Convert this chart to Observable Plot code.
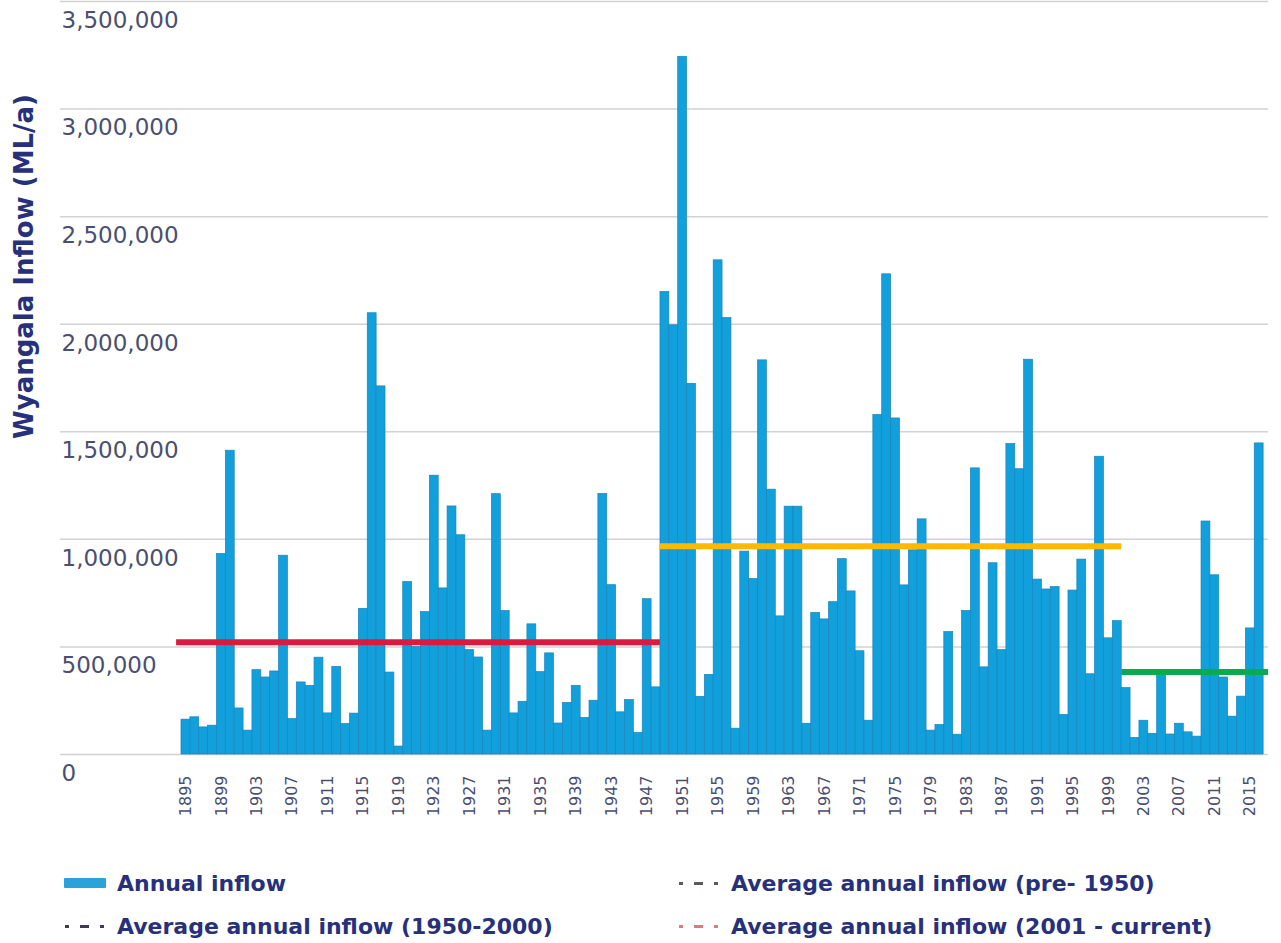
<!DOCTYPE html>
<html>
<head>
<meta charset="utf-8">
<script src="https://cdn.jsdelivr.net/npm/d3@7"></script>
<script src="https://cdn.jsdelivr.net/npm/@observablehq/plot@0.6"></script>
<style>
  html, body { margin: 0; padding: 0; background: #fff; }
  #wrap { position: relative; width: 1281px; height: 943px; overflow: hidden; }
  #legend { position: relative; width: 1281px; height: 113px; }
  .item { position: absolute; display: flex; align-items: center; height: 26px;
          font-family: "DejaVu Sans", sans-serif;
          font-weight: bold; font-size: 22px; color: #27307a; white-space: nowrap; }
  .item svg { margin-right: 11px; }
</style>
</head>
<body>
<div id="wrap">
  <div id="chart"></div>
  <div id="legend"></div>
</div>
<script>
// ---- data ----
const years = d3.range(1895, 2017);
const inflow = [
  162000, 173000, 126000, 134000, 932000, 1412000, 214000, 111000, 392000, 358000,   // 1895-1904
  386000, 924000, 165000, 335000, 319000, 450000, 191000, 407000, 142000, 190000,    // 1905-1914
  677000, 2051000, 1711000, 381000, 37000, 802000, 500000, 662000, 1296000, 772000,  // 1915-1924
  1153000, 1019000, 485000, 451000, 111000, 1210000, 667000, 191000, 245000, 605000, // 1925-1934
  383000, 470000, 144000, 239000, 319000, 170000, 250000, 1211000, 787000, 196000,   // 1935-1944
  253000, 100000, 722000, 312000, 2150000, 1995000, 3243000, 1723000, 268000, 370000,// 1945-1954
  2297000, 2029000, 120000, 943000, 816000, 1832000, 1231000, 642000, 1152000, 1152000, // 1955-1964
  143000, 658000, 628000, 708000, 908000, 758000, 480000, 157000, 1578000, 2232000,  // 1965-1974
  1562000, 786000, 949000, 1093000, 111000, 137000, 569000, 92000, 667000, 1330000,  // 1975-1984
  405000, 889000, 485000, 1443000, 1326000, 1835000, 813000, 767000, 778000, 184000, // 1985-1994
  762000, 906000, 373000, 1384000, 540000, 620000, 309000, 77000, 157000, 96000,     // 1995-2004
  369000, 93000, 143000, 103000, 83000, 1083000, 833000, 358000, 176000, 269000,     // 2005-2014
  586000, 1446000                                                                   // 2015-2016
];
const yTicks = [0, 500000, 1000000, 1500000, 2000000, 2500000, 3000000, 3500000];
const tickYears = d3.range(1895, 2016, 4);

const avgNames  = ["pre-1950", "1950-2000", "2001-current"];
const avgStart  = [1895, 1949, 2001];
const avgEnd    = [1948, 2000, 2016];
const avgValues = [522000, 968000, 383000];
const avgColors = ["#dc1a40", "#ffba00", "#0aaa4e"];

const yTitle = "Wyangala Inflow (ML/a)";
const legendItems = [
  {label: "Annual inflow", kind: "swatch", color: "#2aa3da", left: 64, top: 53},
  {label: "Average annual inflow (pre- 1950)", kind: "dash", color: "#5a5a62", left: 678, top: 53},
  {label: "Average annual inflow (1950-2000)", kind: "dash", color: "#3a3d55", left: 64, top: 96},
  {label: "Average annual inflow (2001 - current)", kind: "dash", color: "#e07a7a", left: 678, top: 96}
];

// ---- build ----
const data = years.map((year, i) => ({year, value: inflow[i]}));
const avgData = avgNames.map((name, i) => ({name, start: avgStart[i], end: avgEnd[i], value: avgValues[i], color: avgColors[i]}));

const tickColor = "#4a4f72";
const chart = Plot.plot({
  width: 1281,
  height: 830,
  marginLeft: 60,
  marginRight: 13,
  marginTop: 1,
  marginBottom: 76,
  x: {domain: [1880.86, 2017.05]},
  y: {domain: [0, 3500000]},
  color: {type: "identity"},
  style: {fontFamily: "DejaVu Sans, sans-serif", background: "white", overflow: "visible"},
  marks: [
    Plot.gridY(yTicks, {stroke: "#d2d2d2", strokeOpacity: 1, strokeWidth: 1.5}),
    Plot.rectY(data, {x1: d => d.year - 0.5, x2: d => d.year + 0.5, y: "value",
      fill: "#12a0dc", stroke: "#1984ba", strokeWidth: 0.7}),
    Plot.ruleY(avgData, {y: "value",
      x1: d => d.start - 0.5 - (d.start === years[0] ? 0.55 : 0),
      x2: d => d.end + 0.5 + (d.end === years[years.length - 1] ? 0.55 : 0),
      stroke: "color", strokeWidth: 6}),
    Plot.axisY(yTicks, {anchor: "left", tickSize: 0, textAnchor: "start", dx: 10, dy: 19,
      tickFormat: d3.format(","), fontSize: 23, fill: tickColor, label: null}),
    Plot.axisX(tickYears, {anchor: "bottom", tickSize: 0, tickPadding: 21, tickRotate: -90,
      tickFormat: d => String(d), fontSize: 16, fill: tickColor, label: null}),
    Plot.text([yTitle], {frameAnchor: "top-left", text: d => d, rotate: -90, dx: -36, dy: 265,
      textAnchor: "middle", lineAnchor: "middle",
      fontSize: 26, fontWeight: "bold", fill: "#27307a", letterSpacing: 0.4})
  ]
});
document.getElementById("chart").appendChild(chart);

const legend = document.getElementById("legend");
for (const it of legendItems) {
  const div = document.createElement("div");
  div.className = "item";
  div.style.left = it.left + "px";
  div.style.top = (it.top - 13) + "px";
  let icon;
  if (it.kind === "swatch") {
    icon = `<svg width="42" height="10"><rect x="0" y="0" width="42" height="10" rx="1" fill="${it.color}"/></svg>`;
  } else {
    icon = `<svg width="42" height="10"><rect x="1" y="4" width="4" height="3" fill="${it.color}"/><rect x="16" y="4" width="9" height="3" fill="${it.color}"/><rect x="36" y="4" width="4" height="3" fill="${it.color}"/></svg>`;
  }
  div.innerHTML = icon + `<span>${it.label}</span>`;
  legend.appendChild(div);
}
</script>
</body>
</html>
